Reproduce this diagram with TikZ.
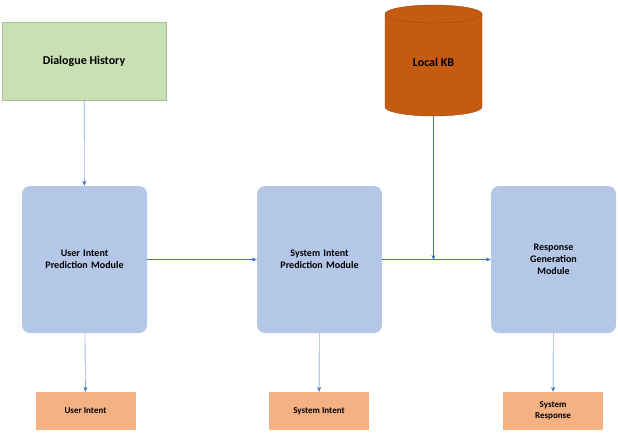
\documentclass[tikz,border=0pt]{standalone}
\usepackage{fontspec}
\setmainfont{Carlito}
\usetikzlibrary{arrows.meta,shapes.geometric}
\definecolor{modc}{RGB}{180,199,231}
\definecolor{outc}{RGB}{244,177,131}
\definecolor{kbc}{RGB}{197,90,17}
\definecolor{kbd}{RGB}{160,70,10}
\definecolor{dhc}{RGB}{201,224,180}
\definecolor{dhd}{RGB}{170,190,150}
\definecolor{arrc}{RGB}{68,114,196}
\begin{document}
\begin{tikzpicture}[x=1pt,y=-1pt,
 modbox/.style={fill=modc,rounded corners=8pt,minimum width=125pt,minimum height=147pt,align=center,font=\bfseries\fontsize{10}{12}\selectfont,text width=110pt},
 outbox/.style={fill=outc,minimum width=100pt,minimum height=38pt,align=center,font=\bfseries\fontsize{9}{11}\selectfont},
 arrw/.style={draw=arrc,-{Stealth[length=5pt,width=4pt]}}]
\useasboundingbox (0,0) rectangle (618,432);
\node[draw=dhd,fill=dhc,minimum width=164pt,minimum height=78pt,font=\bfseries\fontsize{12}{14}\selectfont] (dh) at (84,61) {Dialogue History};
\fill[kbc] (385,14) -- (385,107) arc[start angle=180,end angle=360,x radius=48.5pt,y radius=9pt] -- (482,14) -- cycle;
\draw[kbd] (385,14) -- (385,107) arc[start angle=180,end angle=360,x radius=48.5pt,y radius=9pt] -- (482,14);
\draw[kbd,fill=kbc] (433.5,14) ellipse[x radius=48.5pt,y radius=9pt];
\node[font=\bfseries\fontsize{12}{14}\selectfont] (kb) at (433.5,62) {Local KB};
\coordinate (kbb) at (433.5,116);
\node[modbox] (u) at (84.5,259.5) {User Intent\\Prediction Module};
\node[modbox] (s) at (319.5,259.5) {System Intent\\Prediction Module};
\node[modbox] (r) at (553.5,259.5) {Response\\Generation\\Module};
\node[outbox] (uo) at (85.5,411) {User Intent};
\node[outbox] (so) at (319,411) {System Intent};
\node[outbox] (ro) at (553,411) {System\\Response};
\coordinate (j) at (433.5,260);
\draw[arrw] (dh) -- (u);
\draw[arrw] (u) -- (s);
\draw[arrw] (s) -- (r);
\draw[arrw] (kbb) -- (j);
\draw[arrw] (u) -- (uo);
\draw[arrw] (s) -- (so);
\draw[arrw] (r) -- (ro);
\end{tikzpicture}
\end{document}
